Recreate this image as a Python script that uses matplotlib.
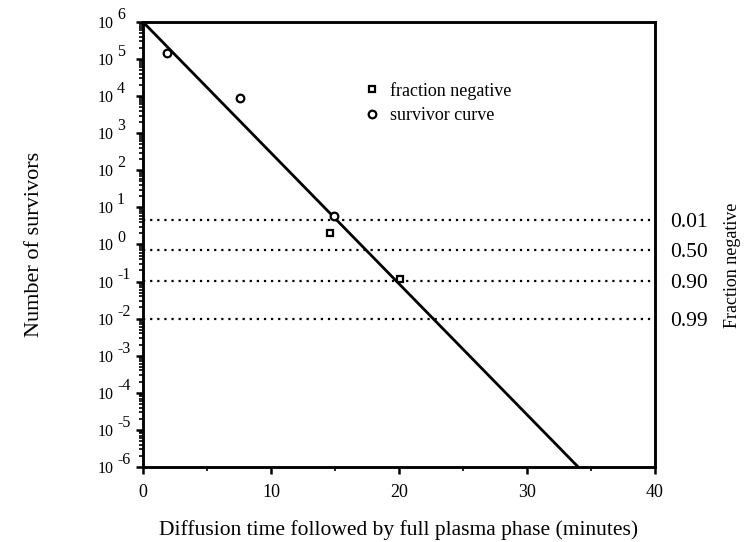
import matplotlib.pyplot as plt
import matplotlib.transforms as mtransforms
import numpy as np
from matplotlib.ticker import FixedLocator, FuncFormatter, LogLocator, NullFormatter

plt.rcParams['font.family'] = ['Liberation Serif', 'DejaVu Serif']

# survivor curve (circles)
surv_t = [1.9, 7.6, 14.9]
surv_n = [1.45e5, 8.9e3, 5.8]
# fraction negative (squares)
frac_t = [0.0, 14.6, 20.1]
frac_n = [1.0e6, 2.1, 0.118]
# fitted line end points
fit_t = [0.0, 34.0]
fit_n = [1.0e6, 1.0e-6]
# fraction negative reference levels
frac_levels = [0.01, 0.50, 0.90, 0.99]
frac_labels = ['0.01', '0.50', '0.90', '0.99']
level_n = [-np.log(p) for p in frac_levels]
# decades on the y axis
exponents = list(range(-6, 7))

fig = plt.figure(figsize=(7.5, 5.42), dpi=100)
ax = fig.add_axes([0.1907, 0.1384, 0.6826, 0.821])

ax.plot(fit_t, fit_n, color='black', lw=2, zorder=3)
for n in level_n:
    ax.plot([0, 40], [n, n], color='black', lw=1.6, ls=(0, (1, 2.2)), zorder=2)
ax.plot(frac_t, frac_n, ls='none', marker='s', ms=5, mfc='white', mec='black',
        mew=1.6, zorder=4, label='fraction negative')
ax.plot(surv_t, surv_n, ls='none', marker='o', ms=5.5, mfc='white', mec='black',
        mew=1.6, zorder=4, label='survivor curve')

ax.set_yscale('log')
ax.set_xlim(0, 40)
ax.set_ylim(1e-6, 1e6)
ax.set_xticks([0, 10, 20, 30, 40])
ax.set_xticks([5, 15, 25, 35], minor=True)
ax.yaxis.set_major_locator(FixedLocator([10.0 ** e for e in exponents]))
ax.yaxis.set_minor_locator(LogLocator(base=10, subs=np.arange(2, 10), numticks=50))
ax.yaxis.set_minor_formatter(NullFormatter())
ax.yaxis.set_major_formatter(FuncFormatter(lambda v, p: '10'))

# exponents drawn beside the "10", same size, raised
exp_trans = mtransforms.offset_copy(ax.get_yaxis_transform(), fig=fig, y=5, units='points')
for e in exponents:
    ax.text(-0.051, 10.0 ** e, str(e), transform=exp_trans, ha='left', va='center',
            fontsize=11.5, clip_on=False)

for s in ax.spines.values():
    s.set_linewidth(1.8)
ax.tick_params(axis='both', which='major', direction='out', length=5, width=1.8)
ax.tick_params(axis='both', which='minor', direction='out', length=3, width=1.2)
ax.tick_params(axis='y', which='major', labelsize=11.5, pad=16)
ax.tick_params(axis='x', which='major', labelsize=13, pad=7)

ax.set_xlabel('Diffusion time followed by full plasma phase (minutes)', fontsize=15.5,
              labelpad=14)
ax.set_ylabel('Number of survivors', fontsize=16, labelpad=39)

ax2 = ax.twinx()
ax2.set_yscale('log')
ax2.set_ylim(1e-6, 1e6)
ax2.yaxis.set_major_locator(FixedLocator(level_n))
ax2.yaxis.set_major_formatter(FuncFormatter(lambda v, p: frac_labels[p]))
ax2.yaxis.set_minor_locator(FixedLocator([]))
ax2.tick_params(axis='y', length=0, labelsize=15.5, pad=11)
ax2.set_ylabel('Fraction negative', fontsize=13)
ax2.yaxis.set_label_coords(1.135, 0.454)
for s in ax2.spines.values():
    s.set_linewidth(1.8)

ax.legend(loc='upper left', bbox_to_anchor=(0.42, 0.886), frameon=False, fontsize=13,
          handlelength=0.6, handletextpad=0.65, labelspacing=0.4, borderpad=0)

fig.savefig('out.png', dpi=100)
